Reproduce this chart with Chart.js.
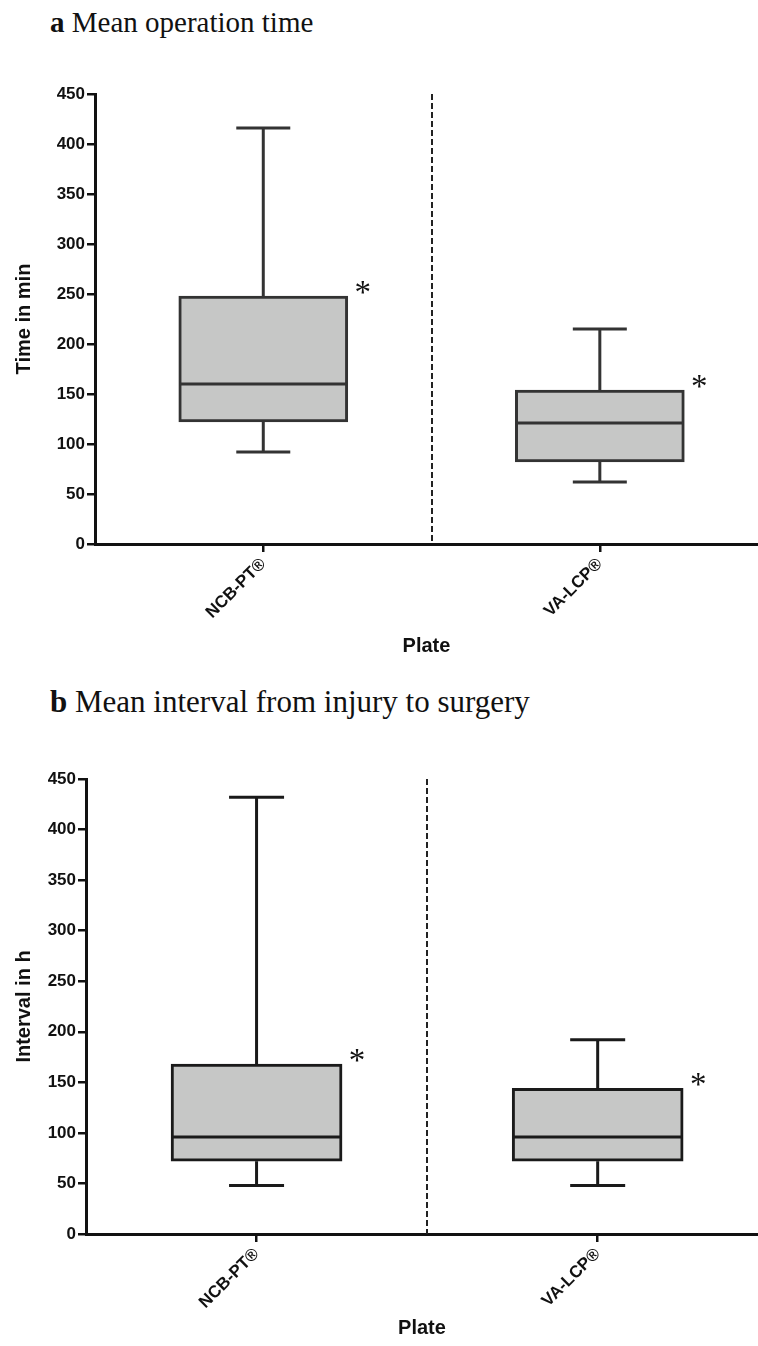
<!DOCTYPE html>
<html><head><meta charset="utf-8">
<script src="https://cdn.jsdelivr.net/npm/chart.js@4/dist/chart.umd.min.js"></script>
<style>
html,body{margin:0;padding:0;background:#fff;}
body{width:758px;height:1346px;position:relative;overflow:hidden;}
.ptitle{position:absolute;left:50px;font-family:"Liberation Serif","Times New Roman",serif;color:#111;white-space:nowrap;}
.ptitle b{font-weight:bold;}
canvas{position:absolute;left:0;}
</style></head><body>
<div class="ptitle" style="top:8px;font-size:29px;line-height:29px"><b>a</b> Mean operation time</div>
<canvas id="ca" width="758" height="620" style="top:60px"></canvas>
<div class="ptitle" style="top:686px;font-size:31px;line-height:31px"><b>b</b> Mean interval from injury to surgery</div>
<canvas id="cb" width="758" height="606" style="top:740px"></canvas>
<script>
// ---- data ----
const categories = ['NCB-PT®', 'VA-LCP®'];
const yTicks = [0, 50, 100, 150, 200, 250, 300, 350, 400, 450];
const xTitle = 'Plate';

// a: operation time (min)
const opMin    = [92, 62];
const opQ1     = [122, 82];
const opMedian = [160, 121];
const opQ3     = [248, 154];
const opMax    = [416, 215];

// b: interval injury -> surgery (h)
const intMin    = [48, 48];
const intQ1     = [72, 72];
const intMedian = [96, 96];
const intQ3     = [168, 144];
const intMax    = [432, 192];

const sigMarks = ['*', '*'];
const groupDivider = 1.5;

const SANS = '"Liberation Sans", Arial, Helvetica, sans-serif';
const SERIF = '"Liberation Serif", "Times New Roman", serif';

function boxPlugin(stats, st) {
  return {
    id: 'boxExtras',
    afterDatasetsDraw(chart) {
      const ctx = chart.ctx, xs = chart.scales.x, ys = chart.scales.y;
      const meta = chart.getDatasetMeta(0);
      ctx.save();
      // dashed divider between groups
      const dx = Math.round(xs.getPixelForValue(groupDivider));
      ctx.strokeStyle = '#222';
      ctx.lineWidth = 2;
      ctx.setLineDash([6, 3]);
      ctx.beginPath();
      ctx.moveTo(dx, ys.getPixelForValue(yTicks[yTicks.length - 1]));
      ctx.lineTo(dx, ys.getPixelForValue(yTicks[0]));
      ctx.stroke();
      ctx.setLineDash([]);
      ctx.strokeStyle = st.lineColor;
      ctx.lineWidth = 3;
      const line = (x1, y1, x2, y2) => { ctx.beginPath(); ctx.moveTo(x1, y1); ctx.lineTo(x2, y2); ctx.stroke(); };
      meta.data.forEach((bar, i) => {
        const cx = bar.x, hw = bar.width / 2, hc = st.capWidth / 2;
        const pMin = ys.getPixelForValue(stats.min[i]);
        const pQ1 = ys.getPixelForValue(stats.q1[i]);
        const pMed = ys.getPixelForValue(stats.median[i]);
        const pQ3 = ys.getPixelForValue(stats.q3[i]);
        const pMax = ys.getPixelForValue(stats.max[i]);
        line(cx, pQ3, cx, pMax);
        line(cx - hc, pMax, cx + hc, pMax);
        line(cx, pQ1, cx, pMin);
        line(cx - hc, pMin, cx + hc, pMin);
        line(cx - hw + 1, pMed, cx + hw - 1, pMed);
        // significance mark
        ctx.fillStyle = '#111';
        ctx.font = '33px ' + SERIF;
        ctx.textAlign = 'center';
        ctx.textBaseline = 'alphabetic';
        const m = ctx.measureText(sigMarks[i]);
        const cy = pQ3 - 9;
        ctx.fillText(sigMarks[i], cx + hw + 15, cy + (m.actualBoundingBoxAscent - m.actualBoundingBoxDescent) / 2);
      });
      ctx.restore();
    }
  };
}

function makeChart(id, yTitle, stats, L) {
  const data = categories.map((c, i) => ({ x: i + 1, y: [stats.q1[i], stats.q3[i]] }));
  const axisFont = { family: SANS, size: 17, weight: 'bold' };
  const titleFont = { family: SANS, size: 20, weight: 'bold' };
  return new Chart(document.getElementById(id), {
    type: 'bar',
    data: {
      datasets: [{
        data,
        backgroundColor: '#c6c7c6',
        borderColor: L.lineColor,
        borderWidth: 3,
        borderSkipped: false,
        barThickness: L.boxWidth
      }]
    },
    options: {
      responsive: false,
      animation: false,
      devicePixelRatio: 1,
      layout: { padding: { top: L.padTop, left: 0, right: 0, bottom: 0 } },
      plugins: { legend: { display: false }, tooltip: { enabled: false }, title: { display: false } },
      scales: {
        x: {
          type: 'linear', min: 0.5, max: 2.47, bounds: 'data', offset: false,
          afterBuildTicks: s => { s.ticks = categories.map((c, i) => ({ value: i + 1 })); },
          afterFit: s => { s.height = L.xAxisHeight; },
          ticks: {
            autoSkip: false, maxRotation: 45, minRotation: 45, padding: 2, color: '#111', font: axisFont,
            callback: v => categories[v - 1] || ''
          },
          grid: {
            display: true, offset: false, drawOnChartArea: false, drawTicks: true, tickLength: 8, lineWidth: 2.5,
            color: '#111'
          },
          border: { display: true, color: '#111', width: 3 },
          title: { display: true, text: xTitle, color: '#111', font: titleFont, padding: { top: 0, bottom: L.xTitlePad } }
        },
        y: {
          min: yTicks[0], max: yTicks[yTicks.length - 1],
          afterBuildTicks: s => { s.ticks = yTicks.map(v => ({ value: v })); },
          afterFit: s => { s.width = L.axisWidth; },
          ticks: { color: '#111', font: axisFont, padding: 2 },
          grid: { display: true, drawOnChartArea: false, drawTicks: true, tickLength: 8, lineWidth: 2.5, color: '#111' },
          border: { display: true, color: '#111', width: 3 },
          title: { display: true, text: yTitle, color: '#111', font: titleFont, padding: { top: 12, bottom: 0 } }
        }
      }
    },
    plugins: [boxPlugin(stats, L)]
  });
}

makeChart('ca', 'Time in min',
  { min: opMin, q1: opQ1, median: opMedian, q3: opQ3, max: opMax },
  { axisWidth: 95, xAxisHeight: 136, padTop: 34, xTitlePad: 22, boxWidth: 169, capWidth: 54, lineColor: '#333' });

makeChart('cb', 'Interval in h',
  { min: intMin, q1: intQ1, median: intMedian, q3: intQ3, max: intMax },
  { axisWidth: 86, xAxisHeight: 112, padTop: 39, xTitlePad: 6, boxWidth: 171, capWidth: 55, lineColor: '#1a1a1a' });
</script>
</body></html>
